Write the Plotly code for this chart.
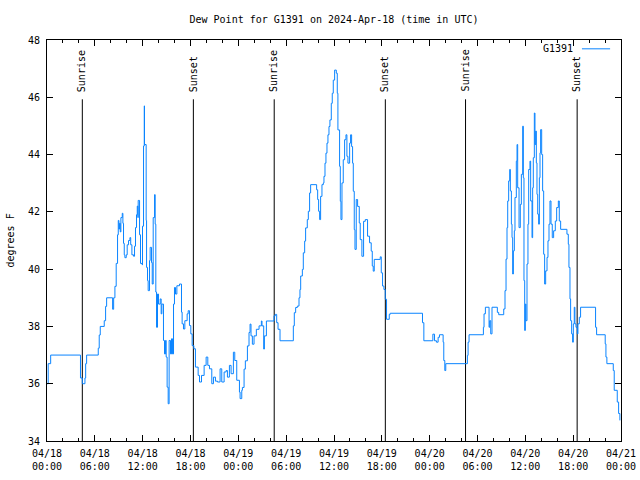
import pandas as pd
import plotly.graph_objects as go

START = "2024-04-18 00:00"

# hours since start (UTC) and dew point (degrees F)
hours = [
    0.0, 0.15, 0.46, 4.2, 4.43, 4.76, 4.85, 4.97, 6.43, 6.55, 6.68, 7.18, 7.35, 7.48,
    8.23, 8.36, 8.52, 8.68, 8.85, 8.94, 9.02, 9.1, 9.19, 9.27, 9.44, 9.52, 9.6, 9.69,
    9.77, 9.94, 10.06, 10.23, 10.4, 10.5, 10.65, 10.86, 10.98, 11.1, 11.23, 11.32,
    11.4, 11.44, 11.61, 11.73, 11.94, 11.98, 12.11, 12.2,
    12.23, 12.44, 12.49, 12.61, 12.69, 12.86, 12.94, 13.11, 13.2, 13.32, 13.49, 13.57,
    13.65, 13.74, 13.86, 13.99, 14.2, 14.32, 14.41, 14.61, 14.74, 14.87, 14.95, 15.07,
    15.2, 15.32, 15.49, 15.62, 15.74, 15.87, 15.99, 16.12, 16.29, 16.62, 16.87, 16.95,
    17.12, 17.29, 17.58, 17.71, 17.87, 18.04, 18.21, 18.42, 18.62, 18.96, 19.13, 19.38,
    19.71, 19.96, 20.17, 20.38, 20.67, 20.88, 21.13, 21.38, 21.71, 21.92, 22.22, 22.47,
    22.63, 22.88, 23.09, 23.38, 23.55, 23.8, 24.14, 24.22, 24.43,
    24.51, 24.72, 24.88, 25.14, 25.34, 25.47, 25.59, 25.76, 25.97, 26.26, 26.6, 26.89,
    26.97, 27.18, 27.27, 27.52, 28.48, 28.64, 28.81, 28.98, 29.23, 30.9, 31.02, 31.19,
    31.4, 31.61, 31.73, 31.82, 32.03, 32.15, 32.32, 32.44, 32.65, 32.78, 32.94, 33.07,
    33.82, 33.95, 34.07, 34.2, 34.32, 34.49, 34.66, 34.74, 34.87, 34.99, 35.12, 35.24,
    35.37, 35.49, 35.66, 35.78, 35.91, 36.08, 36.29, 36.41, 36.49, 36.7, 36.79,
    36.87, 37.0, 37.16, 37.33, 37.5, 37.62, 37.75, 37.96, 38.08, 38.21, 38.33, 38.42,
    38.54, 38.63, 38.79, 38.96, 39.17, 39.29, 39.5, 39.71, 39.92, 40.21, 40.46, 40.67,
    40.8, 40.92, 41.05, 41.8, 41.93, 42.09, 42.26, 42.43, 42.59, 42.93, 43.05, 47.1,
    47.27, 48.4, 48.61,
    48.85, 49.06, 49.23, 49.69, 49.77, 49.9, 50.02, 52.73, 52.82, 52.94, 54.74, 54.82,
    54.99, 55.45, 55.53, 55.66, 55.82, 56.49, 56.66, 57.29, 57.45, 57.58, 57.7, 57.79,
    57.91, 58.04, 58.12, 58.25, 58.33, 58.41, 58.5, 58.62, 58.7, 58.87, 58.96, 59.04,
    59.21, 59.37, 59.5, 59.67, 59.75, 59.83, 59.92, 60.0, 60.08, 60.21, 60.33, 60.42,
    60.58, 60.67, 60.84, 60.92, 61.0, 61.13, 61.21, 61.3,
    61.38, 61.46, 61.55, 61.67, 61.76, 61.84, 61.92, 62.05, 62.17, 62.3, 62.42, 62.55,
    62.72, 62.84, 62.97, 63.09, 63.22, 63.38, 63.55, 63.76, 63.93, 64.14, 64.26, 64.43,
    65.22, 65.39, 65.47, 65.6, 65.68, 65.81, 65.93, 66.02, 66.14, 66.22, 66.35, 66.52,
    66.6, 66.77, 66.93, 68.81, 68.94, 70.02, 70.11, 70.23, 71.03, 71.15, 71.53, 71.7,
    71.86,
]
dewpoint = [
    36.0, 36.7, 37.0, 36.2, 36.0, 36.2, 36.7, 37.0, 37.24, 37.7, 38.0, 38.2, 38.7, 39.0,
    38.6, 39.0, 39.4, 40.2, 41.2, 41.7, 41.4, 41.6, 41.3, 41.8, 41.95, 41.6, 40.9, 40.5,
    40.4, 40.5, 40.85, 41.0, 41.1, 40.85, 40.5, 40.45, 40.8, 41.45, 41.9, 42.2,
    41.8, 42.4, 41.2, 40.2, 40.15, 41.5, 44.3, 45.7,
    44.35, 41.7, 40.06, 39.6, 39.25, 40.3, 40.76, 40.23, 39.48, 41.8, 42.6, 41.57,
    39.2, 37.97, 39.13, 38.78, 38.96, 38.44, 38.78, 37.51, 37.04, 37.51, 36.93, 35.88,
    35.3, 37.51, 37.04, 37.57, 37.04, 38.78, 39.36, 39.13, 39.42, 39.48, 38.5, 38.09,
    37.91, 38.2, 38.44, 38.55, 38.03, 37.74, 37.33, 37.22, 36.58, 36.29, 36.06, 36.29,
    36.64, 36.93, 36.64, 36.52, 36.0, 36.23, 36.09, 36.06, 36.52, 36.06, 36.41, 36.46,
    36.23, 36.64, 36.35, 37.1, 36.81, 36.12, 35.71, 35.48, 35.77,
    35.87, 36.51, 36.8, 37.32, 37.79, 38.08, 37.67, 37.38, 37.67, 37.9, 38.02, 38.19,
    38.02, 37.21, 37.67, 38.19, 38.37, 38.42, 38.13, 37.9, 37.5, 38.02, 38.48, 38.66,
    38.71, 39.0, 39.29, 39.76, 39.99, 40.57, 40.98, 41.44, 41.73, 42.02, 42.66, 42.95,
    42.77, 42.43, 42.02, 41.73, 42.54, 42.95, 43.01, 43.24, 43.7, 44.05, 44.4, 44.69,
    44.98, 45.21, 45.79, 46.14, 46.6, 46.95, 46.84, 46.14, 44.86, 43.59, 42.37,
    41.73, 43.01, 43.82, 44.52, 44.69, 43.94, 43.7, 44.4, 44.69, 44.28, 43.7, 42.72,
    41.38, 40.69, 42.43, 42.19, 41.61, 41.03, 40.45, 41.67, 41.73, 41.15, 40.92, 40.63,
    40.11, 39.93, 40.34, 40.43, 39.87, 39.41, 39.29, 38.95, 38.25, 38.42, 38.46, 38.13,
    37.5, 37.73, 37.5,
    37.45, 37.62, 37.71, 37.45, 36.81, 36.46, 36.7, 36.99, 37.45, 37.71, 37.97, 38.44,
    38.67, 37.97, 38.2, 37.74, 38.67, 38.49, 38.41, 38.61, 39.25, 40.35, 41.45, 42.38,
    43.08, 43.48, 42.73, 41.57, 41.1, 39.83, 40.64, 41.34, 42.5, 43.77, 44.35, 42.84,
    41.45, 42.26, 43.31, 44.99, 43.19, 39.6, 37.86, 38.78, 38.2, 40.18, 41.57, 43.48,
    43.77, 42.38, 41.1, 42.84, 43.89, 45.45, 44.35, 44.82,
    43.71, 42.61, 41.92, 41.57, 43.19, 44.06, 44.87, 44.0, 42.73, 40.52, 39.48, 39.94,
    40.41, 40.99, 41.57, 42.38, 41.57, 41.1, 41.34, 41.68, 42.15, 42.38, 41.68, 41.39,
    41.22, 40.87, 40.06, 38.96, 38.2, 37.74, 37.45, 38.09, 38.67, 38.09, 37.97, 37.74,
    38.09, 38.32, 38.67, 37.97, 37.71, 37.39, 36.93, 36.7, 36.46, 35.77, 35.36, 34.96,
    34.72,
]

sun_hours = [4.43, 18.36, 28.5, 42.44, 52.5, 66.5]
sun_labels = ["Sunrise", "Sunset", "Sunrise", "Sunset", "Sunrise", "Sunset"]

x_tick_hours = [0, 6, 12, 18, 24, 30, 36, 42, 48, 54, 60, 66, 72]
x_tick_labels = [
    "04/18<br>00:00", "04/18<br>06:00", "04/18<br>12:00", "04/18<br>18:00",
    "04/19<br>00:00", "04/19<br>06:00", "04/19<br>12:00", "04/19<br>18:00",
    "04/20<br>00:00", "04/20<br>06:00", "04/20<br>12:00", "04/20<br>18:00",
    "04/21<br>00:00",
]
y_ticks = [34, 36, 38, 40, 42, 44, 46, 48]
y_range = [34, 48]

series_name = "G1391"
title_text = "Dew Point for G1391 on 2024-Apr-18 (time in UTC)"
y_title = "degrees F"

LINE_COLOR = "#0a84ff"
FONT = "DejaVu Sans Mono"

t0 = pd.Timestamp(START)
def at(h):
    return t0 + pd.Timedelta(hours=h)

times = [at(h) for h in hours]

fig = go.Figure()
fig.add_trace(go.Scatter(
    x=times, y=dewpoint, mode="lines", line=dict(color=LINE_COLOR, width=1, shape="hv"),
    name=series_name, showlegend=False, hoverinfo="skip",
))

shapes = []
annotations = []
for h, lab in zip(sun_hours, sun_labels):
    shapes.append(dict(type="line", xref="x", yref="y", x0=at(h), x1=at(h),
                       y0=y_range[0], y1=45.93, line=dict(color="black", width=1),
                       layer="below"))
    annotations.append(dict(x=at(h), y=46.12, xref="x", yref="y", text=lab,
                            textangle=-90, showarrow=False, xanchor="center",
                            yanchor="bottom", font=dict(family=FONT, size=10, color="black")))

# legend (text then line sample, gnuplot style)
annotations.append(dict(x=0.92, y=0.978, xref="paper", yref="paper", text=series_name,
                        showarrow=False, xanchor="right", yanchor="middle",
                        font=dict(family=FONT, size=10, color="black")))
shapes.append(dict(type="line", xref="paper", yref="paper", x0=0.932, x1=0.981,
                   y0=0.978, y1=0.978, line=dict(color=LINE_COLOR, width=1)))

# y-axis title placed like gnuplot's ylabel
annotations.append(dict(x=-37 / 574, y=0.5, xref="paper", yref="paper", text=y_title,
                        textangle=-90, showarrow=False, xanchor="center", yanchor="middle",
                        font=dict(family=FONT, size=10, color="black")))

minor_vals = [at(h) for h in range(0, 73, 2) if h % 6 != 0]

fig.update_layout(
    width=640, height=480,
    margin=dict(l=47, r=19, t=40, b=39),
    paper_bgcolor="white", plot_bgcolor="white",
    font=dict(family=FONT, size=10, color="black"),
    title=dict(text=title_text, x=334 / 640, xanchor="center", y=1 - 19 / 480,
               yanchor="middle", font=dict(family=FONT, size=10, color="black")),
    shapes=shapes, annotations=annotations, showlegend=False,
)
fig.update_xaxes(
    type="date", range=[at(0), at(72)], automargin=False,
    tickmode="array", tickvals=[at(h) for h in x_tick_hours], ticktext=x_tick_labels,
    ticks="inside", ticklen=6, tickcolor="black", tickwidth=1,
    showline=True, linecolor="black", linewidth=1, mirror="allticks",
    showgrid=False, zeroline=False, ticklabelstandoff=3,
    minor=dict(tickmode="array", tickvals=minor_vals, ticks="inside", ticklen=3,
               tickcolor="black", showgrid=False),
    tickfont=dict(family=FONT, size=10, color="black"),
)
fig.update_yaxes(
    range=y_range, automargin=False,
    tickmode="array", tickvals=y_ticks, ticktext=[str(v) for v in y_ticks],
    ticks="inside", ticklen=6, tickcolor="black", tickwidth=1,
    showline=True, linecolor="black", linewidth=1, mirror="allticks",
    showgrid=False, zeroline=False, ticklabelstandoff=4,
    tickfont=dict(family=FONT, size=10, color="black"),
)

fig.write_html(
    "out.html",
    config={"displayModeBar": False, "staticPlot": True},
    post_script="document.body.style.margin='0';document.body.style.overflow='hidden';",
)
